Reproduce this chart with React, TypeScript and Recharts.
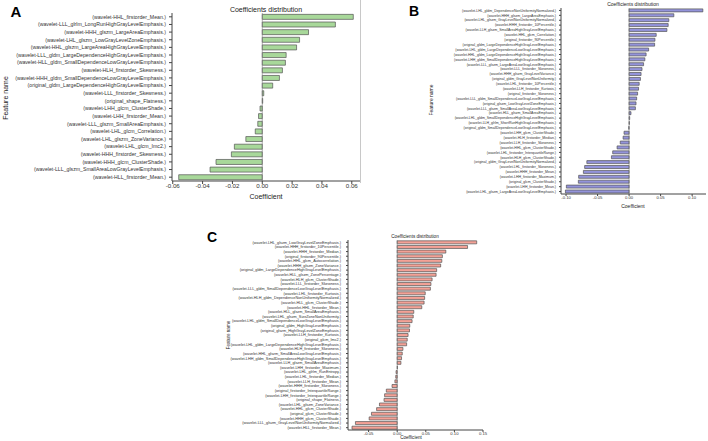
import { BarChart, Bar, XAxis, YAxis, ReferenceLine } from 'recharts'

const FONT = '"Liberation Sans", Arial, sans-serif'

// panel A
const FEATURES_A = [
  '(wavelet-HHL_firstorder_Mean.)',
  '(wavelet-LLL_glrlm_LongRunHighGrayLevelEmphasis.)',
  '(wavelet-HHH_glszm_LargeAreaEmphasis.)',
  '(wavelet-LHL_glszm_LowGrayLevelZoneEmphasis.)',
  '(wavelet-HHL_glszm_LargeAreaHighGrayLevelEmphasis.)',
  '(wavelet-LLL_gldm_LargeDependenceHighGrayLevelEmphasis.)',
  '(wavelet-HLL_gldm_SmallDependenceLowGrayLevelEmphasis.)',
  '(wavelet-HLH_firstorder_Skewness.)',
  '(wavelet-HHH_gldm_SmallDependenceLowGrayLevelEmphasis.)',
  '(original_gldm_LargeDependenceHighGrayLevelEmphasis.)',
  '(wavelet-LLL_firstorder_Skewness.)',
  '(original_shape_Flatness.)',
  '(wavelet-LHH_glcm_ClusterShade.)',
  '(wavelet-LHH_firstorder_Mean.)',
  '(wavelet-LLL_glszm_SmallAreaEmphasis.)',
  '(wavelet-LHL_glcm_Correlation.)',
  '(wavelet-LHL_glszm_ZoneVariance.)',
  '(wavelet-LHL_glcm_Imc2.)',
  '(wavelet-HHH_firstorder_Skewness.)',
  '(wavelet-HHH_glcm_ClusterShade.)',
  '(wavelet-LLL_glszm_SmallAreaLowGrayLevelEmphasis.)',
  '(wavelet-HLL_firstorder_Mean.)',
]
const COEF_A = [
  0.061, 0.049, 0.031, 0.025, 0.023, 0.016, 0.0155, 0.0135, 0.0115, 0.007, 0.001,
  0.0003, -0.0015, -0.0025, -0.003, -0.0047, -0.011, -0.0187, -0.0207, -0.031, -0.035, -0.056,
]
const TICKS_A = [-0.06, -0.04, -0.02, 0, 0.02, 0.04, 0.06]

// panel B
const FEATURES_B = [
  '(wavelet-LHL_gldm_DependenceNonUniformityNormalized.)',
  '(wavelet-HHH_glszm_LargeAreaEmphasis.)',
  '(wavelet-LHL_glszm_GrayLevelNonUniformityNormalized.)',
  '(wavelet-HHH_firstorder_10Percentile.)',
  '(wavelet-LLH_glszm_SmallAreaHighGrayLevelEmphasis.)',
  '(wavelet-HHL_glcm_Correlation.)',
  '(original_firstorder_90Percentile.)',
  '(original_gldm_LargeDependenceHighGrayLevelEmphasis.)',
  '(wavelet-LHL_gldm_LargeDependenceLowGrayLevelEmphasis.)',
  '(wavelet-HHL_gldm_LargeDependenceHighGrayLevelEmphasis.)',
  '(wavelet-LHH_gldm_SmallDependenceHighGrayLevelEmphasis.)',
  '(wavelet-LLL_glszm_LargeAreaLowGrayLevelEmphasis.)',
  '(wavelet-LLL_firstorder_Skewness.)',
  '(wavelet-HHH_glszm_GrayLevelVariance.)',
  '(original_gldm_GrayLevelNonUniformity.)',
  '(wavelet-LHL_firstorder_10Percentile.)',
  '(wavelet-LLH_firstorder_Kurtosis.)',
  '(original_firstorder_Skewness.)',
  '(wavelet-LLL_gldm_SmallDependenceLowGrayLevelEmphasis.)',
  '(original_glszm_LowGrayLevelZoneEmphasis.)',
  '(wavelet-LLL_glszm_SmallAreaLowGrayLevelEmphasis.)',
  '(wavelet-HLL_glszm_SmallAreaEmphasis.)',
  '(wavelet-LHL_gldm_SmallDependenceHighGrayLevelEmphasis.)',
  '(wavelet-LLH_glrlm_ShortRunHighGrayLevelEmphasis.)',
  '(original_gldm_SmallDependenceLowGrayLevelEmphasis.)',
  '(wavelet-LHH_glcm_ClusterShade.)',
  '(wavelet-HLH_firstorder_Median.)',
  '(wavelet-LLH_firstorder_Skewness.)',
  '(wavelet-HHL_glcm_ClusterShade.)',
  '(wavelet-LHL_firstorder_InterquartileRange.)',
  '(wavelet-HLH_glcm_ClusterShade.)',
  '(original_gldm_GrayLevelNonUniformityNormalized.)',
  '(wavelet-LHL_firstorder_Skewness.)',
  '(wavelet-HHH_firstorder_Mean.)',
  '(wavelet-LHH_firstorder_Maximum.)',
  '(original_glcm_ClusterShade.)',
  '(wavelet-LHH_firstorder_Mean.)',
  '(wavelet-LHL_glszm_LargeAreaLowGrayLevelEmphasis.)',
]
const COEF_B = [
  0.117, 0.071, 0.063, 0.062, 0.06, 0.043, 0.041, 0.0405, 0.031, 0.027, 0.025, 0.023, 0.0205,
  0.019, 0.018, 0.016, 0.015, 0.0135, 0.012, 0.011, 0.01, 0.003, 0.001, 0.0005, -0.0005,
  -0.008, -0.0095, -0.014, -0.019, -0.026, -0.028, -0.067, -0.0705, -0.0725, -0.08, -0.0805,
  -0.0995, -0.101,
]
const TICKS_B = [-0.1, -0.05, 0, 0.05, 0.1]

// panel C
const FEATURES_C = [
  '(wavelet-LHL_glszm_LowGrayLevelZoneEmphasis.)',
  '(wavelet-HHH_firstorder_10Percentile.)',
  '(wavelet-HHH_firstorder_Median.)',
  '(original_firstorder_90Percentile.)',
  '(wavelet-HHL_glcm_Autocorrelation.)',
  '(wavelet-HHH_glszm_ZoneVariance.)',
  '(original_gldm_LargeDependenceHighGrayLevelEmphasis.)',
  '(wavelet-HLL_glszm_ZonePercentage.)',
  '(wavelet-HLH_glcm_ClusterShade.)',
  '(wavelet-LLL_firstorder_Skewness.)',
  '(wavelet-LLL_gldm_SmallDependenceLowGrayLevelEmphasis.)',
  '(wavelet-LHL_firstorder_Kurtosis.)',
  '(wavelet-HLH_gldm_DependenceNonUniformityNormalized.)',
  '(wavelet-HLL_glcm_ClusterShade.)',
  '(wavelet-HHL_firstorder_Mean.)',
  '(wavelet-HLL_glszm_SmallAreaEmphasis.)',
  '(wavelet-LHL_glszm_SizeZoneNonUniformity.)',
  '(wavelet-LHL_gldm_SmallDependenceLowGrayLevelEmphasis.)',
  '(original_gldm_HighGrayLevelEmphasis.)',
  '(original_glszm_HighGrayLevelZoneEmphasis.)',
  '(wavelet-LLH_firstorder_Kurtosis.)',
  '(original_glcm_Imc2.)',
  '(wavelet-LHL_gldm_LargeDependenceHighGrayLevelEmphasis.)',
  '(wavelet-HLH_firstorder_Skewness.)',
  '(wavelet-HHL_glszm_SmallAreaLowGrayLevelEmphasis.)',
  '(wavelet-LHH_gldm_SmallDependenceHighGrayLevelEmphasis.)',
  '(wavelet-LLH_glszm_SmallAreaEmphasis.)',
  '(wavelet-LHH_firstorder_Maximum.)',
  '(wavelet-LHL_glrlm_RunEntropy.)',
  '(wavelet-LHL_firstorder_Median.)',
  '(wavelet-LLH_firstorder_Mean.)',
  '(wavelet-HHH_firstorder_Skewness.)',
  '(original_firstorder_InterquartileRange.)',
  '(wavelet-LHH_firstorder_InterquartileRange.)',
  '(original_shape_Flatness.)',
  '(wavelet-LHL_glszm_ZoneVariance.)',
  '(wavelet-HHL_glcm_ClusterShade.)',
  '(original_glcm_ClusterShade.)',
  '(wavelet-HHH_glcm_ClusterShade.)',
  '(wavelet-LLL_glszm_GrayLevelNonUniformityNormalized.)',
  '(wavelet-HLL_firstorder_Mean.)',
]
const COEF_C = [
  0.139, 0.123, 0.085, 0.079, 0.078, 0.076, 0.069, 0.068, 0.061, 0.059, 0.058, 0.049, 0.048,
  0.047, 0.043, 0.029, 0.028, 0.026, 0.022, 0.0215, 0.019, 0.0175, 0.0165, 0.01, 0.0088,
  0.0076, 0.0065, 0.0005, -0.002, -0.0025, -0.004, -0.009, -0.019, -0.022, -0.023, -0.031,
  -0.036, -0.045, -0.049, -0.073, -0.079,
]
const TICKS_C = [-0.05, 0, 0.05, 0.1, 0.15]

type PanelProps = {
  names: string[]
  values: number[]
  ticks: number[]
  domain: [number, number]
  color: string
  left: number
  top: number
  width: number
  height: number
  margin: { top: number; right: number; bottom: number; left: number }
  yWidth: number
  xHeight: number
  yFont: number
  xFont: number
  yTickMargin: number
  tickSize: number
}

function CoefPanel(p: PanelProps) {
  const data = p.names.map((name, i) => ({ name, coef: p.values[i] }))
  return (
    <div style={{ position: 'absolute', left: p.left, top: p.top }}>
      <BarChart
        width={p.width}
        height={p.height}
        data={data}
        layout="vertical"
        margin={p.margin}
        barCategoryGap="18%"
      >
        <XAxis
          type="number"
          domain={p.domain}
          ticks={p.ticks}
          allowDataOverflow
          height={p.xHeight}
          tickSize={p.tickSize}
          tickMargin={0}
          tickFormatter={(v) => Number(v).toFixed(2)}
          tick={{ fontSize: p.xFont, fill: '#333', fontFamily: FONT }}
          stroke="#444"
        />
        <XAxis
          xAxisId="top"
          orientation="top"
          type="number"
          domain={p.domain}
          allowDataOverflow
          height={0}
          tick={false}
          tickLine={false}
          stroke="#444"
        />
        <YAxis
          type="category"
          dataKey="name"
          width={p.yWidth}
          interval={0}
          tickSize={p.tickSize}
          tickMargin={p.yTickMargin}
          tick={{ fontSize: p.yFont, fill: '#333', fontFamily: FONT }}
          stroke="#444"
        />
        <YAxis
          yAxisId="right"
          orientation="right"
          type="category"
          dataKey="name"
          width={0}
          tick={false}
          tickLine={false}
          stroke="#444"
        />
        <ReferenceLine x={0} stroke="#777" strokeWidth={0.6} />
        <Bar
          dataKey="coef"
          fill={p.color}
          stroke="#555"
          strokeWidth={0.7}
          isAnimationActive={false}
        />
      </BarChart>
    </div>
  )
}

function Txt({ x, y, size, children, rotate, bold }: any) {
  return (
    <div
      style={{
        position: 'absolute',
        left: x,
        top: y,
        transform: `translate(-50%, -50%)${rotate ? ' rotate(-90deg)' : ''}`,
        fontSize: size,
        fontWeight: bold ? 700 : 400,
        fontFamily: FONT,
        color: bold ? '#000' : '#222',
        whiteSpace: 'nowrap',
        lineHeight: 1,
      }}
    >
      {children}
    </div>
  )
}

export default function App() {
  return (
    <div
      style={{
        position: 'absolute',
        left: 0,
        top: 0,
        width: 708,
        height: 441,
        background: '#fff',
        overflow: 'hidden',
      }}
    >
      <CoefPanel
        names={FEATURES_A}
        values={COEF_A}
        ticks={TICKS_A}
        domain={[-0.0605, 0.0655]}
        color="#a8d89a"
        left={0}
        top={0}
        width={362}
        height={200}
        margin={{ top: 13, right: 2, bottom: 0, left: 0 }}
        yWidth={172}
        xHeight={19}
        yFont={5.2}
        xFont={6.2}
        yTickMargin={3}
        tickSize={3}
      />
      <Txt x={16} y={11} size={15} bold>A</Txt>
      <Txt x={266} y={9} size={7}>Coefficients distribution</Txt>
      <Txt x={266} y={196} size={7}>Coefficient</Txt>
      <Txt x={5} y={98} size={7} rotate>Feature name</Txt>

      <div style={{ position: 'absolute', left: 360, top: 0, width: 1, height: 183, background: '#c8c8c8' }} />

      <CoefPanel
        names={FEATURES_B}
        values={COEF_B}
        ticks={TICKS_B}
        domain={[-0.108, 0.122]}
        color="#9393da"
        left={360}
        top={0}
        width={348}
        height={215}
        margin={{ top: 8, right: 2, bottom: 0, left: 0 }}
        yWidth={201}
        xHeight={21}
        yFont={3.5}
        xFont={4.2}
        yTickMargin={3}
        tickSize={2}
      />
      <Txt x={414} y={11} size={14} bold>B</Txt>
      <Txt x={633} y={4} size={5}>Coefficients distribution</Txt>
      <Txt x={633} y={206} size={5}>Coefficient</Txt>
      <Txt x={431} y={100} size={5} rotate>Feature name</Txt>

      <CoefPanel
        names={FEATURES_C}
        values={COEF_C}
        ticks={TICKS_C}
        domain={[-0.086, 0.15]}
        color="#f4a196"
        left={200}
        top={225}
        width={290}
        height={216}
        margin={{ top: 15, right: 7, bottom: 0, left: 0 }}
        yWidth={148}
        xHeight={11}
        yFont={3.8}
        xFont={4.2}
        yTickMargin={5}
        tickSize={2}
      />
      <Txt x={212} y={237} size={14} bold>C</Txt>
      <Txt x={415} y={237} size={4.6}>Coefficients distribution</Txt>
      <Txt x={411} y={438} size={4.6}>Coefficient</Txt>
      <Txt x={229} y={335} size={4.6} rotate>Feature name</Txt>
    </div>
  )
}
